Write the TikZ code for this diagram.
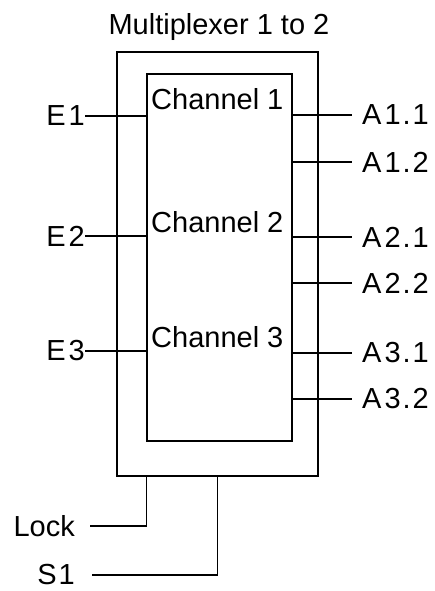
\documentclass[tikz,border=0pt]{standalone}
\usepackage{fontspec}
\setmainfont{Liberation Sans}
\newcommand{\albl}[2]{A\kern3pt#1\kern2pt.\kern2pt#2}
\begin{document}
\begin{tikzpicture}[x=1pt,y=-1pt,
  wire/.style={line width=1.3pt},
  box/.style={draw,line width=1.3pt,rectangle,inner sep=0pt},
  txt/.style={font=\fontsize{29}{33}\selectfont,inner sep=0pt},
  lbl/.style={txt,inner xsep=#1},
  lbl/.default=0pt]
\useasboundingbox (0,0) rectangle (434,591);
\node[box,minimum width=201pt,minimum height=424pt] (outer) at (217.5,264) {};
\node[box,minimum width=145pt,minimum height=367pt] (inner) at (219.5,257.5) {};
\node[txt,anchor=base] (title) at (219,35) {Multiplexer 1 to 2};
\node[txt,anchor=base west] (ch1) at (151,110) {Channel 1};
\node[txt,anchor=base west] (ch2) at (151,232) {Channel 2};
\node[txt,anchor=base west] (ch3) at (151,347) {Channel 3};
% inputs
\node[lbl,anchor=east] (E1) at (85,116) {E\kern3pt1};
\node[lbl,anchor=east] (E2) at (85,236) {E\kern3pt2};
\node[lbl,anchor=east] (E3) at (85,351) {E\kern3pt3};
\draw[wire] (E1.east) -- (E1.east -| inner.west);
\draw[wire] (E2.east) -- (E2.east -| inner.west);
\draw[wire] (E3.east) -- (E3.east -| inner.west);
% outputs
\node[lbl=10pt,anchor=west] (A11) at (352,115) {\albl{1}{1}};
\node[lbl=10pt,anchor=west] (A12) at (352,162) {\albl{1}{2}};
\node[lbl=10pt,anchor=west] (A21) at (352,237) {\albl{2}{1}};
\node[lbl=10pt,anchor=west] (A22) at (352,283) {\albl{2}{2}};
\node[lbl=10pt,anchor=west] (A31) at (352,353) {\albl{3}{1}};
\node[lbl=10pt,anchor=west] (A32) at (352,399) {\albl{3}{2}};
\foreach \n in {A11,A12,A21,A22,A31,A32}
  \draw[wire] (\n.west -| inner.east) -- (\n.west);
% control
\node[lbl=15pt,anchor=east] (lock) at (90,526) {Lock};
\node[lbl=17pt,anchor=east] (S1) at (92,575) {S\kern2pt1};
\draw[wire] (lock.east) -| (outer.south -| inner.west);
\draw[wire] (S1.east) -| (outer.south);
\end{tikzpicture}
\end{document}
